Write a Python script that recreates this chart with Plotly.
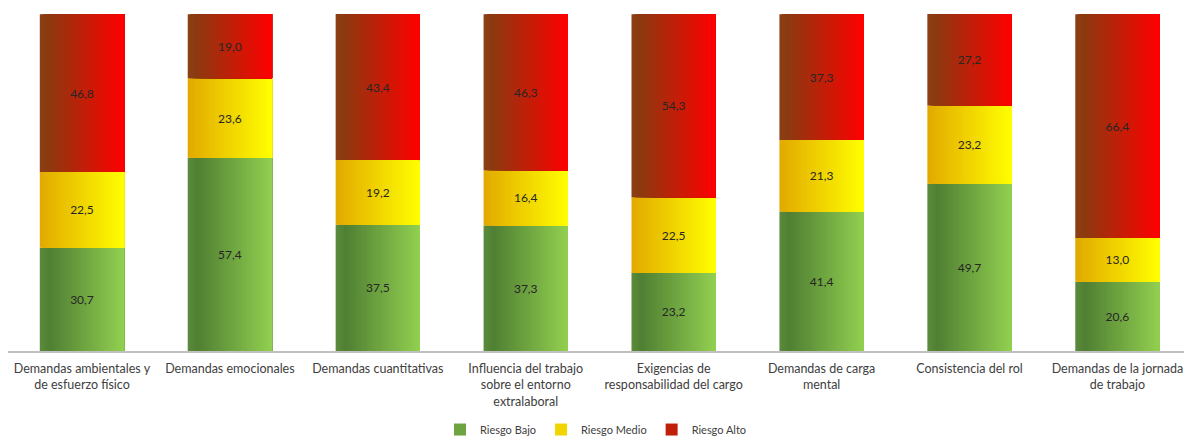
import plotly.graph_objects as go
from plotly.colors import sample_colorscale

categories = [
    "Demandas ambientales y<br>de esfuerzo físico",
    "Demandas emocionales",
    "Demandas cuantitativas",
    "Influencia del trabajo<br>sobre el entorno<br>extralaboral",
    "Exigencias de<br>responsabilidad del cargo",
    "Demandas de carga<br>mental",
    "Consistencia del rol",
    "Demandas de la jornada<br>de trabajo",
]
riesgo_bajo = [30.7, 57.4, 37.5, 37.3, 23.2, 41.4, 49.7, 20.6]
riesgo_medio = [22.5, 23.6, 19.2, 16.4, 22.5, 21.3, 23.2, 13.0]
riesgo_alto = [46.8, 19.0, 43.4, 46.3, 54.3, 37.3, 27.2, 66.4]

series = [
    ("Riesgo Bajo", riesgo_bajo,
     [[0, "#5b8b3c"], [0.12, "#507f33"], [1, "#92d050"]]),
    ("Riesgo Medio", riesgo_medio,
     [[0, "#e2a900"], [1, "#ffff00"]]),
    ("Riesgo Alto", riesgo_alto,
     [[0, "#8c3f14"], [0.1, "#8b3a10"], [1, "#ff0000"]]),
]

BAR_W = 0.57
N_STRIPES = 40
stripe_w = BAR_W / N_STRIPES
x_idx = list(range(len(categories)))

fig = go.Figure()
base = [0.0] * len(categories)
for name, vals, scale in series:
    colors = sample_colorscale(scale, [(k + 0.5) / N_STRIPES for k in range(N_STRIPES)])
    # horizontal gradient: overlapping narrow slices of the same bar
    for k, col in enumerate(colors):
        w = BAR_W - k * stripe_w
        fig.add_trace(go.Bar(
            x=x_idx, y=vals, base=base,
            width=w, offset=-BAR_W / 2 + k * stripe_w,
            marker=dict(color=col, line=dict(width=0)),
            name=name, legendgroup=name,
            showlegend=(k == N_STRIPES // 2),
            hoverinfo="skip",
        ))
    # value label centred on each segment
    fig.add_trace(go.Bar(
        x=x_idx, y=vals, base=base, width=BAR_W,
        marker=dict(color="rgba(0,0,0,0)", line=dict(width=0)),
        text=[f"{v:.1f}".replace(".", ",") for v in vals],
        textposition="inside", insidetextanchor="middle", textangle=0,
        textfont=dict(family="Lato, Open Sans, sans-serif", size=12, color="#262626"),
        name=name, showlegend=False,
        hovertemplate=name + ": %{text}<extra></extra>",
    ))
    base = [b + v for b, v in zip(base, vals)]

fig.update_layout(
    width=1184, height=439,
    barmode="overlay",
    paper_bgcolor="white", plot_bgcolor="white",
    margin=dict(l=8, r=0, t=14, b=88, autoexpand=False),
    font=dict(family="Lato, Open Sans, sans-serif", color="#404040"),
    showlegend=True,
    legend=dict(
        orientation="h", x=0.5, xanchor="center", y=-0.19, yanchor="top",
        font=dict(size=11, color="#404040"), traceorder="normal",
        itemwidth=30, tracegroupgap=0,
    ),
    uniformtext=dict(minsize=8, mode="show"),
)
fig.update_xaxes(
    range=[-0.5, 7.45], tickmode="array", tickvals=x_idx, ticktext=categories,
    tickangle=0, showline=True, linecolor="#c0c0c0", linewidth=2,
    showgrid=False, zeroline=False, ticks="", automargin=False,
    ticklabelstandoff=5,
    tickfont=dict(size=12.5, color="#404040"),
)
fig.update_yaxes(range=[0, 100.1], visible=False, showgrid=False, zeroline=False)

fig.write_html("out.html")
